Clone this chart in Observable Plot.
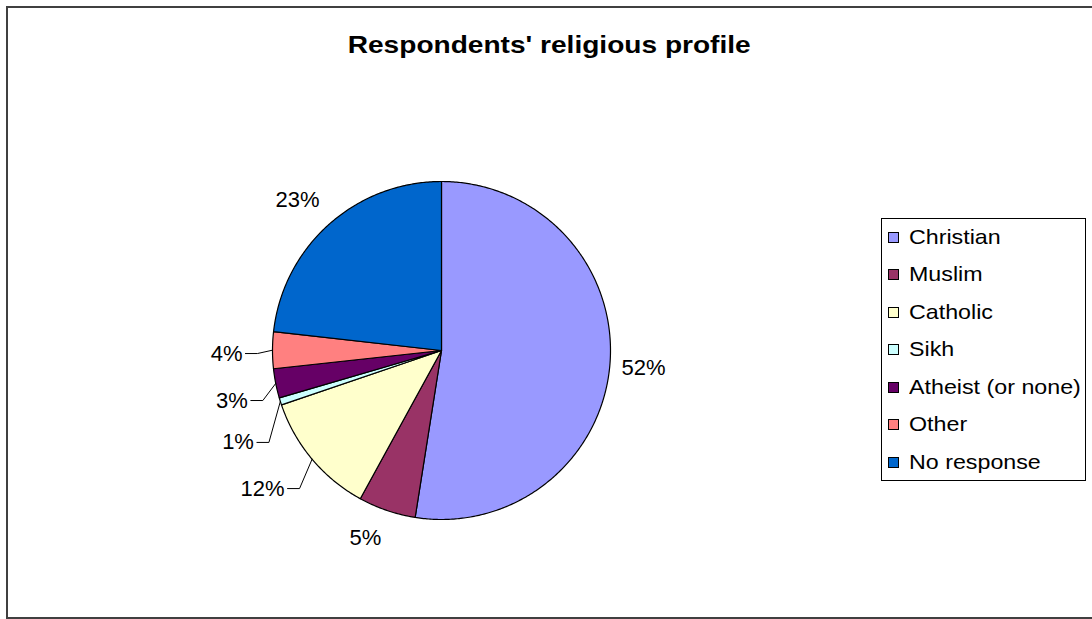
<!DOCTYPE html>
<html><head><meta charset="utf-8">
<script src="https://cdn.jsdelivr.net/npm/d3@7"></script>
<script src="https://cdn.jsdelivr.net/npm/@observablehq/plot@0.6"></script>
<style>
html,body{margin:0;padding:0;background:#fff;}
#wrap{position:relative;width:1092px;height:619px;overflow:hidden;font-family:"Liberation Sans",Arial,sans-serif;color:#000;}
#frame{position:absolute;left:6px;top:6px;width:1110px;height:613px;border:2px solid #404040;box-sizing:border-box;}
#title{position:absolute;left:0;width:1098px;top:31px;text-align:center;font-weight:bold;font-size:24px;white-space:nowrap;}
#title span{display:inline-block;transform:scaleX(1.17);}
#chart{position:absolute;left:0;top:0;}
#legend{position:absolute;left:881px;top:218px;width:205px;height:263px;border:1px solid #000;box-sizing:border-box;background:#fff;}
.item{position:absolute;left:6px;height:20px;display:flex;align-items:center;font-size:19.8px;white-space:nowrap;}
.sw{width:9px;height:9px;border:1px solid #000;margin-right:10px;flex:none;}
.item span{display:inline-block;transform:scaleX(1.175);transform-origin:left center;}
</style></head>
<body>
<div id="wrap">
  <div id="frame"></div>
  <div id="chart"></div>
  <div id="title"><span>Respondents' religious profile</span></div>
  <div id="legend"></div>
</div>
<script>
// ---- data ----
const categories = ["Christian","Muslim","Catholic","Sikh","Atheist (or none)","Other","No response"];
const shares = [52.49, 5.49, 11.8, 0.7, 2.8, 3.5, 23.22];
const colors = ["#9999FF","#993366","#FFFFCC","#CCFFFF","#660066","#FF8080","#0066CC"];

// ---- layout (not data) ----
const CX = 441, CY = 350, R = 169;            // pie centre and radius in px
// label centres in units of the radius (layout only)
const labelSpots = [[1.195, -0.101], [-0.450, -1.107], [-1.059, -0.817], [-1.204, -0.544], [-1.240, -0.296], [-1.272, -0.018], [-0.852, 0.888]];
const withLeader = [false, false, true, true, true, true, false];
const labelFont = 22;

const rows = categories.map((c, i) => ({cat: c, share: shares[i], i}));
const arcs = d3.pie().sort(null).value(d => d.share)(rows);

const polys = arcs.flatMap(a => {
  const pts = [{cat: a.data.cat, x: 0, y: 0}];
  const n = Math.max(2, Math.ceil((a.endAngle - a.startAngle) / 0.01));
  for (let k = 0; k <= n; k++) {
    const t = a.startAngle + (a.endAngle - a.startAngle) * k / n;
    pts.push({cat: a.data.cat, x: Math.sin(t), y: Math.cos(t)});
  }
  return pts;
});

const labels = arcs.map(a => {
  const mid = (a.startAngle + a.endAngle) / 2;
  const spot = labelSpots[a.data.i];
  const text = Math.round(a.data.share) + "%";
  return {cat: a.data.cat, x: spot[0], y: spot[1], text, mid, moved: withLeader[a.data.i]};
});

// leader lines for moved labels: text end -> elbow -> slice edge
const charW = ch => ch === "%" ? 0.889 : 0.556;
const leaders = labels.filter(l => l.moved).flatMap(l => {
  const w = [...l.text].reduce((s, ch) => s + charW(ch), 0) * labelFont;
  const endX = l.x + (w / 2 + 3) / R;
  const elbowX = endX + 12 / R;
  return [
    {cat: l.cat, x: endX, y: l.y},
    {cat: l.cat, x: elbowX, y: l.y},
    {cat: l.cat, x: Math.sin(l.mid), y: Math.cos(l.mid)}
  ];
});

const plot = Plot.plot({
  width: 1092,
  height: 619,
  margin: 0,
  style: {fontFamily: "'Liberation Sans', Arial, sans-serif", background: "transparent", color: "#000"},
  x: {domain: [-1, 1], range: [CX - R, CX + R], axis: null},
  y: {domain: [-1, 1], range: [CY + R, CY - R], axis: null},
  color: {domain: categories, range: colors},
  marks: [
    Plot.line(polys, {x: "x", y: "y", z: "cat", fill: "cat", stroke: "#000", strokeWidth: 1.2, curve: "linear-closed", strokeLinejoin: "round"}),
    Plot.line(leaders, {x: "x", y: "y", z: "cat", stroke: "#000", strokeWidth: 1}),
    Plot.text(labels, {x: "x", y: "y", text: "text", fontSize: labelFont, fill: "#000"})
  ]
});
document.getElementById("chart").appendChild(plot);

// legend built from the plot's colour scale
const colorScale = plot.scale("color");
const legend = d3.select("#legend");
colorScale.domain.forEach((c, i) => {
  const item = legend.append("div").attr("class", "item").style("top", (8 + i * 37.5) + "px");
  item.append("div").attr("class", "sw").style("background", colorScale.range[i]);
  item.append("span").text(c);
});
</script>
</body></html>
